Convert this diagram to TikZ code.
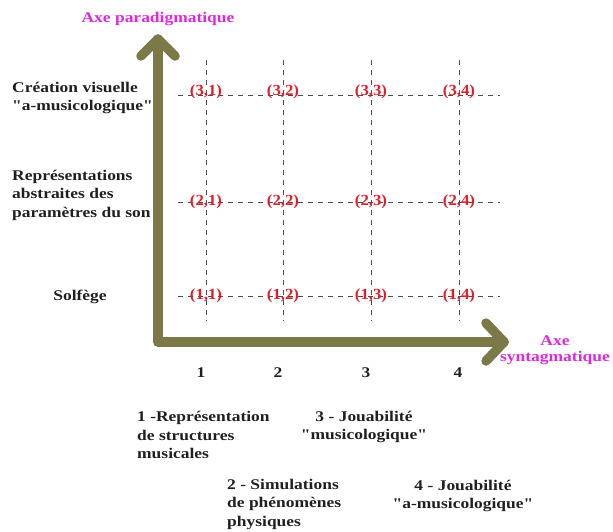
\documentclass[tikz,border=0pt]{standalone}
\usepackage{fontspec}
\setmainfont{Liberation Serif}
\newfontfamily\wide[FakeStretch=1.18]{Liberation Serif}
\newfontfamily\redfont[FakeStretch=1.08]{Liberation Serif}
\definecolor{olive}{RGB}{124,121,72}
\definecolor{axmag}{RGB}{222,40,222}
\definecolor{lblred}{RGB}{225,30,40}
\begin{document}
\begin{tikzpicture}[x=1pt,y=-1pt,
  txt/.style={inner sep=0pt,font=\wide\fontsize{14.8}{18.5}\selectfont\bfseries,text=black!88},
  axlbl/.style={inner sep=0pt,font=\wide\fontsize{14.8}{16.5}\selectfont\bfseries,text=axmag,align=center},
  cell/.style={inner sep=0pt,font=\redfont\fontsize{15.5}{17}\selectfont\bfseries,text=lblred},
  grid/.style={draw=black!70,line width=0.7pt,dash pattern=on 5pt off 5pt},
  axis/.style={draw=olive,line width=9.5pt,line cap=round,line join=round}]
\useasboundingbox (0,0) rectangle (613,531);
% grid coordinates
\foreach \c/\x in {1/206,2/283,3/371,4/459}{
  \coordinate (vt\c) at (\x,60);
  \coordinate (vb\c) at (\x,321);
}
\foreach \r/\y in {1/296,2/202,3/95}{
  \coordinate (hl\r) at (178,\y);
  \coordinate (hr\r) at (500,\y);
}
\foreach \c in {1,...,4}{\draw[grid] (vt\c) -- (vb\c);}
\foreach \r in {1,2,3}{\draw[grid] (hl\r) -- (hr\r);}
% cell labels
\foreach \c/\x in {1/206,2/283,3/371,4/459}{
  \node[cell] (c1\c) at (\x,296) {(1,\c)};
  \node[cell] (c2\c) at (\x,202) {(2,\c)};
  \node[cell] (c3\c) at (\x,92) {(3,\c)};
}
% axes
\coordinate (corner) at (158,342);
\coordinate (ytip) at (158,39);
\coordinate (xtip) at (504,342);
\coordinate (ya) at (141,56);
\coordinate (yb) at (175,56);
\coordinate (xa) at (486,323);
\coordinate (xb) at (486,361);
\draw[axis] (ytip) -- (corner) -- (xtip);
\draw[axis] (ya) -- (ytip) -- (yb);
\draw[axis] (xa) -- (xtip) -- (xb);
% axis labels
\node[axlbl] (yl) at (158,19) {Axe paradigmatique};
\node[axlbl] (xl) at (555,350) {Axe\\syntagmatique};
% row labels
\node[txt,anchor=west,align=left] (r3) at (12,98) {Création visuelle\\"a-musicologique"};
\node[txt,anchor=west,align=left] (r2) at (12,195) {Représentations\\abstraites des\\paramètres du son};
\node[txt] (r1) at (80,297) {Solfège};
% column numbers
\node[txt] (n1) at (201,373) {1};
\node[txt] (n2) at (278,373) {2};
\node[txt] (n3) at (366,373) {3};
\node[txt] (n4) at (458,373) {4};
% legends
\node[txt,anchor=west,align=left] (l1) at (137,435) {1 -Représentation\\de structures\\musicales};
\node[txt,align=center] (l3) at (364,427) {3 - Jouabilité\\"musicologique"};
\node[txt,anchor=west,align=left] (l2) at (227,504) {2 - Simulations\\de phénomènes\\physiques};
\node[txt,align=center] (l4) at (463,496) {4 - Jouabilité\\"a-musicologique"};
\end{tikzpicture}
\end{document}
